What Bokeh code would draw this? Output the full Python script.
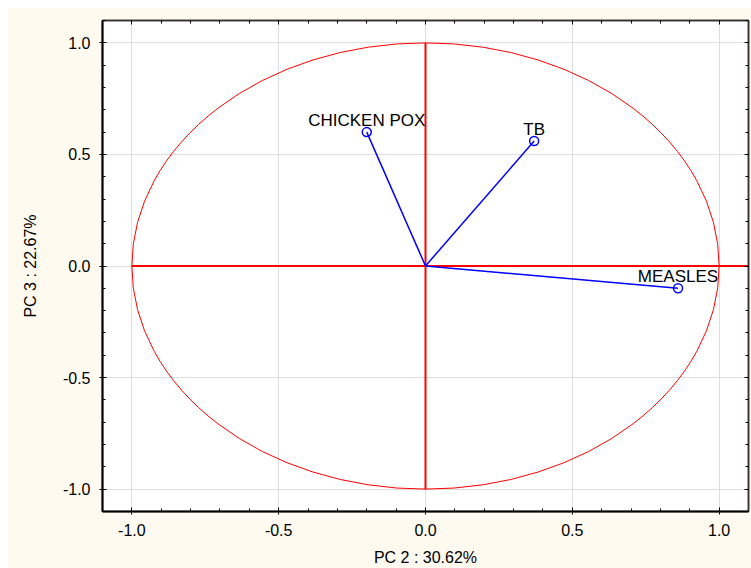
from bokeh.plotting import figure
from bokeh.models import Range1d, LinearAxis, SingleIntervalTicker, ColumnDataSource, Grid, CustomJSTickFormatter
from bokeh.core.properties import value
from bokeh.embed import file_html
from bokeh.resources import INLINE

# data
variables = ["CHICKEN POX", "TB", "MEASLES"]
pc2 = [-0.20, 0.37, 0.86]
pc3 = [0.60, 0.56, -0.10]
x_label = "PC 2 : 30.62%"
y_label = "PC 3 : 22.67%"

FONT = "Liberation Sans"
BG = "#fffaf0"

p = figure(width=744, height=561, output_backend="svg", toolbar_location=None,
           x_range=Range1d(-1.1, 1.1), y_range=Range1d(-1.1, 1.1),
           x_axis_type=None, y_axis_type=None,
           min_border_left=95, min_border_right=3, min_border_top=13, min_border_bottom=55,
           background_fill_color="white", border_fill_color=BG,
           outline_line_color="#222222", outline_line_width=1.5)
p.margin = (7, 0, 0, 7)

def mk_axis(cls_kwargs, labels=True):
    ax = LinearAxis(ticker=SingleIntervalTicker(interval=0.5, num_minor_ticks=5), **cls_kwargs)
    ax.axis_line_color = "black"
    ax.axis_line_width = 2
    ax.major_tick_in = 4
    ax.major_tick_out = 3
    ax.minor_tick_in = 3
    ax.minor_tick_out = 0
    ax.major_tick_line_color = "black"
    ax.minor_tick_line_color = "black"
    if labels:
        ax.formatter = CustomJSTickFormatter(code="return tick.toFixed(1);")
        ax.major_label_text_font = FONT
        ax.major_label_text_font_size = "16px"
        ax.major_label_text_color = "black"
        ax.axis_label_text_font = FONT
        ax.axis_label_text_font_size = "16px"
        ax.axis_label_text_font_style = "normal"
        ax.axis_label_text_color = "black"
    else:
        ax.formatter = CustomJSTickFormatter(code="return '';")
        ax.major_label_standoff = 0
        ax.major_tick_out = 0
        ax.axis_line_width = 1.5
        ax.axis_line_color = "#333333"
    return ax

xb = mk_axis(dict(axis_label=x_label))
xb.major_label_standoff = 9
xb.axis_label_standoff = 10
yl = mk_axis(dict(axis_label=y_label))
yl.major_label_standoff = 9
yl.axis_label_standoff = 21
xt = mk_axis({}, labels=False)
yr = mk_axis({}, labels=False)
p.add_layout(xb, "below")
p.add_layout(yl, "left")
p.add_layout(xt, "above")
p.add_layout(yr, "right")

p.add_layout(Grid(dimension=0, ticker=xb.ticker, grid_line_color="#dedede", grid_line_width=1))
p.add_layout(Grid(dimension=1, ticker=yl.ticker, grid_line_color="#dedede", grid_line_width=1))

# unit circle
p.ellipse(x=[0], y=[0], width=[2], height=[2], fill_color=None, line_color="red", line_width=1)
# axes cross lines
p.segment(x0=[-1.0, 0.0], y0=[0.0, -1.0], x1=[1.1, 0.0], y1=[0.0, 1.0], line_color="red", line_width=2)

src = ColumnDataSource(dict(name=variables, x=pc2, y=pc3, x0=[0]*len(pc2), y0=[0]*len(pc3)))
p.segment(x0="x0", y0="y0", x1="x", y1="y", source=src, line_color="blue", line_width=1.5)
p.scatter(x="x", y="y", source=src, marker="circle", size=9, fill_color=None,
          line_color="blue", line_width=1.5)
p.text(x="x", y="y", text="name", source=src, text_align="center", text_baseline="bottom",
       y_offset=-2, text_font=value(FONT), text_font_size="17px", text_color="black")

open("out.html", "w").write(file_html(p, INLINE))
